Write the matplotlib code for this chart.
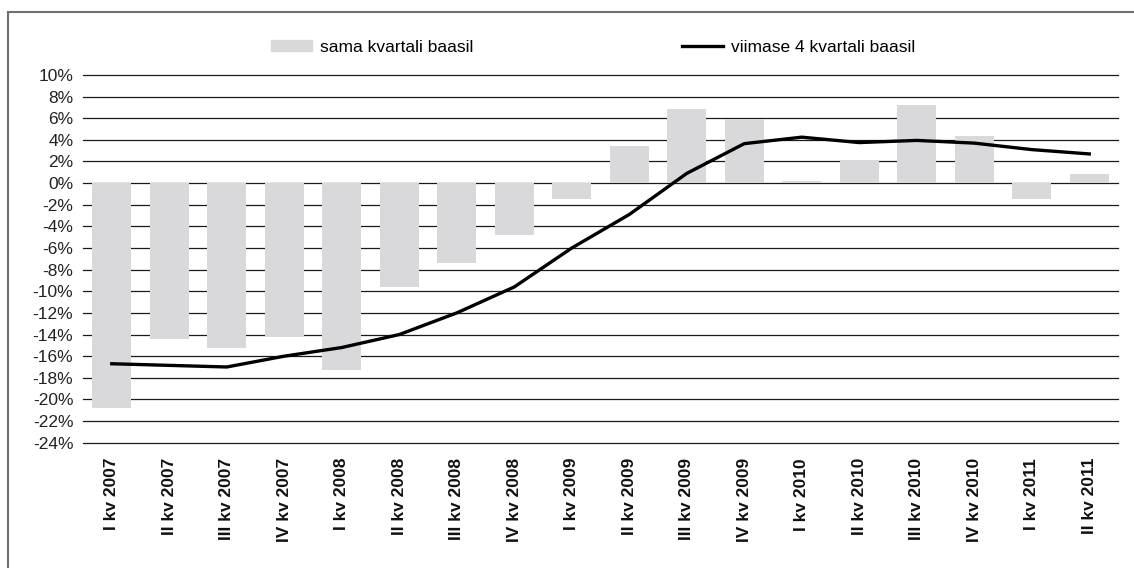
import numpy as np
import matplotlib
matplotlib.use("Agg")
import matplotlib.pyplot as plt
from matplotlib.lines import Line2D

plt.rcParams['font.family'] = ['Liberation Sans', 'DejaVu Sans']

# quarters on the x axis
quarters = ["I kv 2007", "II kv 2007", "III kv 2007", "IV kv 2007",
            "I kv 2008", "II kv 2008", "III kv 2008", "IV kv 2008",
            "I kv 2009", "II kv 2009", "III kv 2009", "IV kv 2009",
            "I kv 2010", "II kv 2010", "III kv 2010", "IV kv 2010",
            "I kv 2011", "II kv 2011"]

# same quarter basis (bars), %
same_quarter = [-20.8, -14.4, -15.2, -14.2, -17.3, -9.6, -7.4, -4.8,
                -1.5, 3.4, 6.9, 5.9, 0.2, 2.1, 7.2, 4.4, -1.5, 0.8]

# last 4 quarters basis (line), %
last_four = [-16.7, -16.85, -17.0, -16.0, -15.2, -14.0, -12.0, -9.6,
             -6.0, -2.9, 0.9, 3.65, 4.25, 3.75, 3.95, 3.7, 3.1, 2.7]

y_ticks = np.arange(-24, 11, 2)

fig = plt.figure(figsize=(11.34, 5.68), dpi=100)
ax = fig.add_axes([0.0732, 0.2206, 0.9127, 0.6474])

x = np.arange(len(quarters))

# grid lines first, bars and line on top
for t in y_ticks:
    ax.axhline(t, color='#1a1a1a', lw=0.9, zorder=1, clip_on=False)

ax.bar(x, same_quarter, width=0.68, color='#d9d9db', zorder=2,
       label='sama kvartali baasil')
ax.plot(x, last_four, color='black', lw=2.4, zorder=3,
        label='viimase 4 kvartali baasil')

ax.set_xlim(-0.5, len(quarters) - 0.5)
ax.set_ylim(-24, 10)
ax.set_yticks(y_ticks)
ax.set_yticklabels([f"{t}%" for t in y_ticks], fontsize=12.5, color='#222222')
ax.set_xticks(x)
ax.set_xticklabels(quarters, rotation=90, fontsize=12.5, fontweight='bold',
                   color='#111111')
ax.tick_params(axis='y', length=0, pad=7)
ax.tick_params(axis='x', length=0, pad=11)
for s in ax.spines.values():
    s.set_visible(False)

# legend on top
handles = [plt.Rectangle((0, 0), 1, 1, color='#d9d9db'),
           Line2D([0], [0], color='black', lw=2.4)]
fig.legend(handles, ['sama kvartali baasil', 'viimase 4 kvartali baasil'],
           loc='center', bbox_to_anchor=(0.523, 0.917), ncol=2,
           frameon=False, fontsize=12.5, handlelength=2.4,
           handleheight=0.55, handletextpad=0.45, columnspacing=12.0)

# outer frame (left and top edges visible)
fig.add_artist(Line2D([8 / 1134, 1.0], [1 - 12 / 568, 1 - 12 / 568],
                      transform=fig.transFigure, color='#707070', lw=1.5))
fig.add_artist(Line2D([8 / 1134, 8 / 1134], [0.0, 1 - 12 / 568],
                      transform=fig.transFigure, color='#707070', lw=1.5))

fig.savefig('out.png', dpi=100)
